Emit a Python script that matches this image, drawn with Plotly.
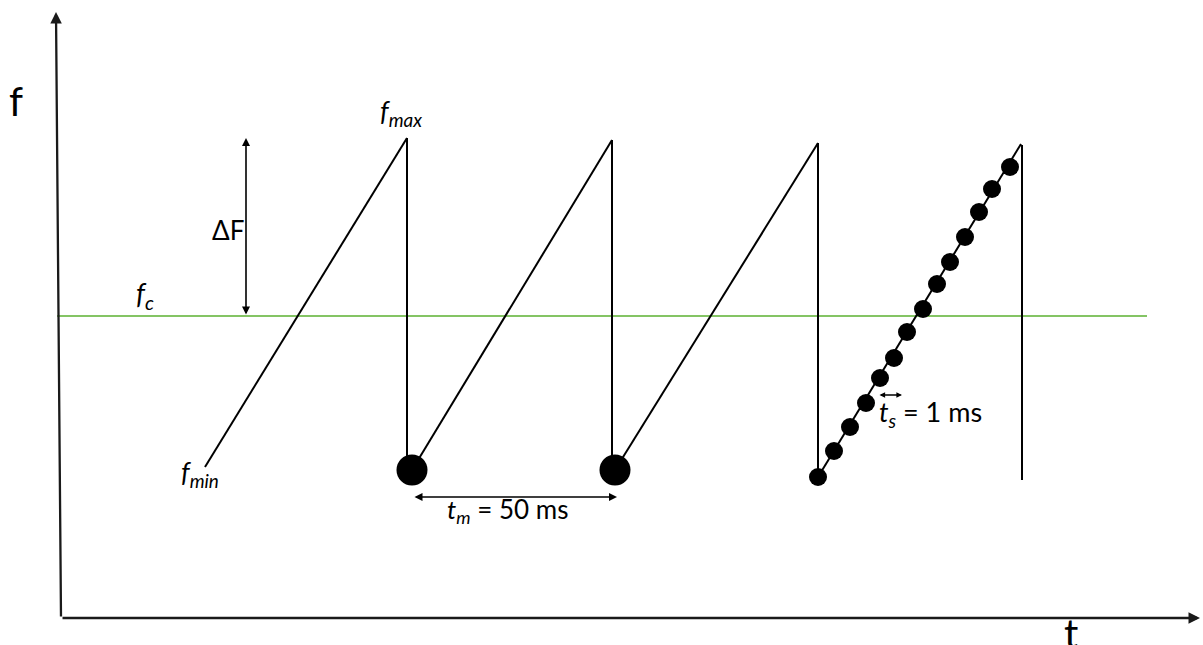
import plotly.graph_objects as go

# ---- sawtooth FMCW chirp, diagram units (t to the right, f upward) ----
# rising ramps: start (t0, f0) -> end (t1, f1)
ramp_t0 = [205, 412, 615, 818]
ramp_f0 = [178, 175, 175, 168]
ramp_t1 = [407, 612, 818, 1021]
ramp_f1 = [507, 505, 502, 501]

# flyback at the end of each ramp
fly_t = [407, 612, 818, 1022]
fly_top = [507, 505, 502, 500]
fly_bot = [175, 175, 168, 165]

# start of a chirp period (big markers)
period_t = [412, 615]
period_f = [175, 175]

# sampled points along the last ramp
sample_t = [818, 834, 850, 866, 880, 894, 907, 923, 937, 950, 965, 979, 992, 1010]
sample_f = [168, 194, 218, 242, 267, 287, 313, 336, 361, 383, 408, 433, 456, 478]

# carrier frequency line
f_c = 329
fc_t = [57, 1147]

# coordinate axes
origin_t, origin_f = 61, 27
t_axis_end = 1200
f_axis_top_t, f_axis_top_f = 56, 633

# sample interval marker
ts_t = [878, 902]
ts_f = 250
# period marker
tm_f = 148
# bandwidth marker
dF_t = 246

FONT = "Lato"
INK = "#000000"

fig = go.Figure()

# carrier line
fig.add_trace(go.Scatter(x=fc_t, y=[f_c, f_c], mode="lines",
                         line=dict(color="#5BB030", width=1.4), hoverinfo="skip"))

# ramps and flybacks
seg_t, seg_f = [], []
for a, b, c, d in zip(ramp_t0, ramp_f0, ramp_t1, ramp_f1):
    seg_t += [a, c, None]
    seg_f += [b, d, None]
for t, top, bot in zip(fly_t, fly_top, fly_bot):
    seg_t += [t, t, None]
    seg_f += [top, bot, None]
fig.add_trace(go.Scatter(x=seg_t, y=seg_f, mode="lines",
                         line=dict(color=INK, width=2), hoverinfo="skip"))

# period start markers
fig.add_trace(go.Scatter(x=period_t, y=period_f, mode="markers",
                         marker=dict(color=INK, size=31), hoverinfo="skip"))

# samples
fig.add_trace(go.Scatter(x=sample_t, y=sample_f, mode="markers",
                         marker=dict(color=INK, size=18), hoverinfo="skip"))

annotations = []


def arrow(x, y, ax, ay, both=False, width=2, size=1.0, color=INK):
    annotations.append(dict(
        x=x, y=y, ax=ax, ay=ay, xref="x", yref="y", axref="x", ayref="y",
        text="", showarrow=True, arrowhead=2, arrowsize=size, arrowwidth=width,
        arrowcolor=color, arrowside="end+start" if both else "end",
        startarrowhead=2, startarrowsize=size, standoff=0, startstandoff=0))


# axes
arrow(t_axis_end, origin_f, origin_t, origin_f, width=2.3, color="#1a1a1a")
arrow(f_axis_top_t, f_axis_top_f, origin_t, origin_f, width=2.3, color="#1a1a1a")

# bandwidth, period and sample-interval arrows
arrow(dF_t, max(ramp_f1), dF_t, f_c, both=True, width=1.6)
arrow(period_t[1] + 2, tm_f, period_t[0] + 1, tm_f, both=True, width=1.6)
arrow(ts_t[1], ts_f, ts_t[0], ts_f, both=True, width=1.4, size=0.8)


def label(x, y, text, size=26, xanchor="center"):
    annotations.append(dict(x=x, y=y, xref="x", yref="y", text=text,
                            showarrow=False, xanchor=xanchor, yanchor="middle",
                            font=dict(family=FONT, size=size, color=INK)))


label(16, 544, "f", size=40)
label(1071, 12, "t", size=40)
label(401, 533, "<i>f</i><sub><i>max</i></sub>", size=27)
label(228, 415, "ΔF")
label(145, 350, "<i>f</i><sub><i>c</i></sub>", size=28)
label(200, 172, "<i>f</i><sub><i>min</i></sub>", size=27)
label(445, 135, "<i>t</i><sub><i>m</i></sub> = 50 ms", xanchor="left")
label(877, 232, "<i>t</i><sub><i>s</i></sub> = 1 ms", size=27, xanchor="left")

fig.update_layout(
    width=1203, height=645,
    margin=dict(l=0, r=0, t=0, b=0),
    paper_bgcolor="white", plot_bgcolor="white",
    showlegend=False,
    xaxis=dict(range=[0, 1203], visible=False, fixedrange=True),
    yaxis=dict(range=[0, 645], visible=False, fixedrange=True),
    annotations=annotations,
)

fig.write_html("out.html", config={"displayModeBar": False})
